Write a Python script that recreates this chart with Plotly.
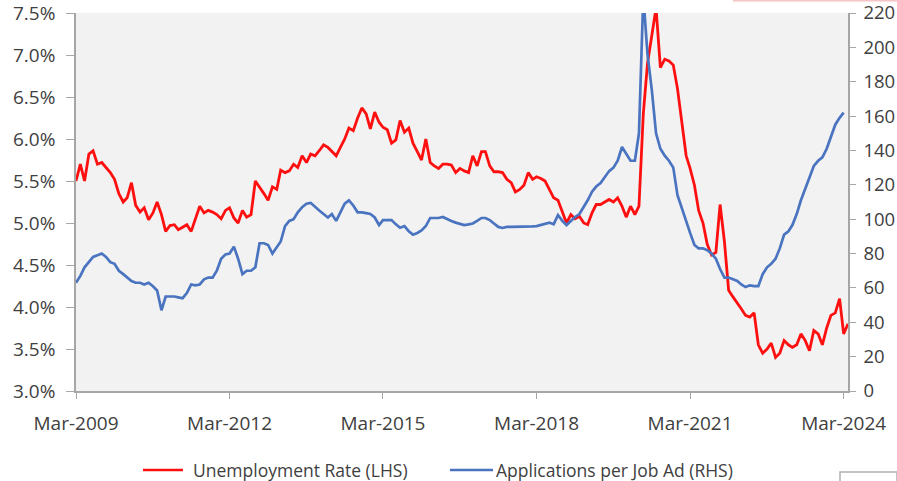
import pandas as pd
import plotly.graph_objects as go

# Monthly series, Mar-2009 onwards
unemployment_rate = [
    5.50, 5.70, 5.50, 5.82, 5.86, 5.70, 5.72, 5.66, 5.60, 5.52,  # 2009
    5.35, 5.25, 5.30, 5.48, 5.21, 5.13, 5.18, 5.04, 5.12, 5.25,
    5.10, 4.90, 4.97, 4.98, 4.92, 4.95, 4.98, 4.90, 5.05, 5.20,
    5.12, 5.15, 5.13, 5.10, 5.05, 5.15, 5.18, 5.06, 5.00, 5.15,
    5.07, 5.10, 5.50, 5.43, 5.35, 5.27, 5.43, 5.40, 5.63, 5.60,
    5.62, 5.70, 5.66, 5.80, 5.72, 5.82, 5.80, 5.86, 5.93, 5.90,
    5.85, 5.80, 5.90, 6.00, 6.13, 6.10, 6.25, 6.37, 6.30, 6.12,
    6.32, 6.20, 6.14, 6.11, 5.95, 5.99, 6.22, 6.08, 6.13, 5.95,
    5.85, 5.75, 6.00, 5.72, 5.68, 5.65, 5.70, 5.70, 5.69, 5.60,
    5.65, 5.62, 5.60, 5.80, 5.68, 5.85, 5.85, 5.68, 5.61, 5.61,
    5.60, 5.52, 5.48, 5.37, 5.40, 5.45, 5.60, 5.52, 5.55, 5.53,
    5.50, 5.39, 5.30, 5.27, 5.12, 5.00, 5.10, 5.05, 5.08, 5.00,
    4.98, 5.12, 5.22, 5.22, 5.25, 5.28, 5.25, 5.30, 5.20, 5.07,
    5.20, 5.10, 5.20, 6.30, 6.90, 7.25, 7.56, 6.85, 6.95, 6.93,
    6.88, 6.60, 6.20, 5.80, 5.65, 5.45, 5.15, 5.00, 4.75, 4.62,
    4.65, 5.22, 4.78, 4.20, 4.12, 4.05, 3.98, 3.90, 3.88, 3.93,
    3.55, 3.45, 3.50, 3.57, 3.40, 3.45, 3.60, 3.55, 3.52, 3.55,
    3.68, 3.60, 3.48, 3.72, 3.68, 3.55, 3.75, 3.90, 3.93, 4.10,
    3.68, 3.80,
]

applications_per_ad = [
    63, 67, 72, 75, 78, 79, 80, 78, 75, 74,
    70, 68, 66, 64, 63, 63, 62, 63, 61, 58.5,
    47, 55, 55, 55, 54.5, 54, 57, 62, 61.5, 62,
    65, 66, 66, 70, 77, 79.5, 80, 84, 77, 68,
    70, 70, 72, 86, 86, 85, 80, 84, 87, 96,
    99, 100, 104, 107, 109, 109.5, 107, 105, 103, 101,
    103, 99, 104, 109, 111, 108, 104, 104, 103.5, 103,
    101, 96.6, 99.5, 99.5, 99.5, 97, 95, 96, 93, 91,
    92, 93.5, 96, 100.7, 100.7, 100.7, 101.3, 100, 99, 98,
    97.5, 96.6, 97, 97.5, 99, 100.7, 100.7, 99.5, 97.5, 95.5,
    94.9, 95.5, 95.5, 95.5, 95.5, 95.5, 95.8, 95.8, 96, 96.6,
    97, 98, 97, 102.4, 99, 96.6, 99, 101.3, 103, 107,
    111, 116, 119, 121, 124.6, 128, 130, 134, 142, 138,
    134, 134, 150, 230, 196, 175, 150, 141, 137, 134,
    130, 114, 106, 98, 92, 85, 83, 83, 82, 80,
    77, 71, 66, 66, 65, 64, 62, 60.5, 61.5, 61,
    61, 68, 72, 74, 77, 83, 91, 93, 96.6, 103,
    111, 118, 124, 131, 134, 136, 141, 148, 155, 159,
    162,
]

x_tick_labels = ["Mar-2009", "Mar-2012", "Mar-2015", "Mar-2018", "Mar-2021", "Mar-2024"]

rate_dates = pd.date_range("2009-03-01", periods=len(unemployment_rate), freq="MS")
apps_dates = pd.date_range("2009-03-01", periods=len(applications_per_ad), freq="MS")
tick_dates = pd.date_range("2009-03-01", periods=len(x_tick_labels), freq="36MS")

RED = "#ff1010"
BLUE = "#4a74c0"
AXIS = "#a6a6a6"
TEXT = "#404040"
FONT = "Open Sans"

W, H = 897, 481
L, R, T, B = 76, 49, 13, 90
pw, ph = W - L - R, H - T - B


def px(xp):
    return (xp - L) / pw


def py(yp):
    return (H - B - yp) / ph


fig = go.Figure()
fig.add_trace(go.Scatter(
    x=rate_dates, y=unemployment_rate, mode="lines",
    line=dict(color=RED, width=2.8), name="Unemployment Rate (LHS)",
    yaxis="y",
))
fig.add_trace(go.Scatter(
    x=apps_dates, y=applications_per_ad, mode="lines",
    line=dict(color=BLUE, width=2.7), name="Applications per Job Ad (RHS)",
    yaxis="y2",
))

axis_common = dict(
    showgrid=False, zeroline=False, automargin=False,
    showline=True, linecolor=AXIS, linewidth=1.5,
    ticks="outside", tickwidth=1.2, tickcolor=AXIS,
    tickfont=dict(size=19, color=TEXT),
    ticklabeloverflow="allow",
)

fig.update_layout(
    width=W, height=H, autosize=False,
    margin=dict(l=L, r=R, t=T, b=B, pad=0, autoexpand=False),
    paper_bgcolor="white",
    plot_bgcolor="#f2f2f2",
    showlegend=False,
    font=dict(family=FONT, size=19, color=TEXT),
    xaxis=dict(
        type="date",
        range=["2009-03-01", "2024-04-01"],
        tickmode="array", tickvals=list(tick_dates), ticktext=x_tick_labels,
        ticklen=6, ticklabelstandoff=8,
        **axis_common,
    ),
    yaxis=dict(
        range=[3.0, 7.5], dtick=0.5, tick0=3.0,
        tickformat=".1f", ticksuffix="%",
        ticklen=8, ticklabelstandoff=7,
        **axis_common,
    ),
    yaxis2=dict(
        range=[0, 220], dtick=20, tick0=0,
        overlaying="y", side="right",
        ticklen=6, ticklabelstandoff=4,
        **dict(axis_common, tickfont=dict(size=18.5, color=TEXT)),
    ),
)

# Legend drawn below the plot area
legend_items = [
    (143, 183, 192, RED, "Unemployment Rate (LHS)"),
    (450, 493, 495, BLUE, "Applications per Job Ad (RHS)"),
]
for x0, x1, xt, color, label in legend_items:
    fig.add_shape(type="line", xref="paper", yref="paper",
                  x0=px(x0), x1=px(x1), y0=py(470), y1=py(470),
                  line=dict(color=color, width=2.6))
    fig.add_annotation(xref="paper", yref="paper", x=px(xt), y=py(469.5),
                       xanchor="left", yanchor="middle", showarrow=False,
                       borderpad=0,
                       text=label, font=dict(family=FONT, size=17.5, color=TEXT))

# Thin pink strip along the top edge and a small framed box in the lower corner
fig.add_shape(type="line", xref="paper", yref="paper",
              x0=px(733), x1=px(897), y0=py(0.8), y1=py(0.8),
              line=dict(color="#f6c4c4", width=1.6))
fig.add_shape(type="rect", xref="paper", yref="paper",
              x0=px(840), x1=px(897), y0=py(472), y1=py(482),
              line=dict(color="#b0b0b0", width=1.5), fillcolor="rgba(0,0,0,0)")

fig.write_html(
    "out.html",
    config={"responsive": False, "displayModeBar": False},
    post_script="document.body.style.margin='0';document.body.style.overflow='hidden';",
)
